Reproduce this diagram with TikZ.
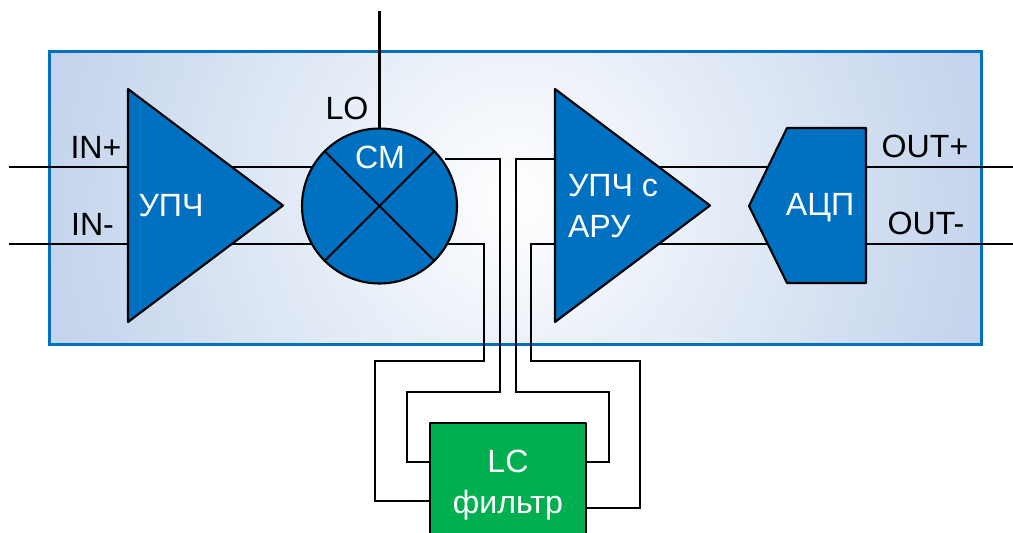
\documentclass[tikz,border=0pt]{standalone}
\usepackage{fontspec}
\setmainfont{Liberation Sans}
\usetikzlibrary{shapes.geometric,backgrounds}
\definecolor{chipblue}{HTML}{0070C0}
\definecolor{filtgreen}{HTML}{00B050}
\definecolor{glowedge}{HTML}{C3D4EC}
\pgfdeclareradialshading{chipglow}{\pgfpointorigin}{color(0bp)=(white); color(12.5bp)=(glowedge); color(50bp)=(glowedge)}
\tikzset{
	wire/.style={line width=1.2pt,black},
	block/.style={draw=black,line width=1.2pt,fill=chipblue,inner sep=0pt,outer sep=0pt},
	ampl/.style={block,isosceles triangle,isosceles triangle stretches,minimum width=4.66cm,minimum height=3.1cm,anchor=apex},
	whitelbl/.style={white,font=\fontsize{18.3}{23}\selectfont,align=left,inner sep=0pt},
	blacklbl/.style={black,font=\fontsize{18.3}{23}\selectfont,inner sep=0pt},
}
\begin{document}
\begin{tikzpicture}[x=.02cm,y=-.02cm,line join=round,line cap=butt]
	\useasboundingbox (0,0) rectangle (1013,533);
	% Блоки
	\node[ampl] (ampA) at (283,205.5) {};
	\node[ampl] (ampB) at (710,205.5) {};
	\node[block,circle,minimum size=3.1cm] (mix) at (379.5,206) {};
	\draw[wire] (mix.45)--(mix.225) (mix.135)--(mix.315);
	\coordinate (adc) at (866,206);
	\draw[block] (787,128)--(866,128)--(866,283)--(787,283)--(749,206)--cycle;
	\node[block,fill=filtgreen,minimum width=3.12cm,minimum height=2.48cm,align=center,text=white,font=\fontsize{18.3}{23}\selectfont] (filt) at (508,485) {LC\\фильтр};
	% Подписи
	\node[whitelbl] (lblA) at (171,206) {УПЧ};
	\node[whitelbl] (lblB) at (613,206) {УПЧ с\\АРУ};
	\node[whitelbl] (lblM) at (380,157) {СМ};
	\node[whitelbl] (lblC) at (820,208) {АЦП};
	\node[blacklbl] (lblLO) at (347,108) {LO};
	\node[blacklbl] (lblIP) at (96,147) {IN+};
	\node[blacklbl] (lblIM) at (92.5,224) {IN-};
	\node[blacklbl] (lblOP) at (925,146) {OUT+};
	\node[blacklbl] (lblOM) at (926,223) {OUT-};
	% Концы проводов
	\coordinate (inP) at (9,167);
	\coordinate (inM) at (9,244);
	\coordinate (outP) at (1013,167);
	\coordinate (outM) at (1013,244);
	\coordinate (lo) at (379.5,11);
	\coordinate (mixU) at (445,159);
	\coordinate (mixD) at (447,244);
	\coordinate (ampU) at (555,159);
	\coordinate (ampD) at (555,244);
	\begin{scope}[on background layer]
		% Корпус
		\node[draw=chipblue,line width=1.7pt,inner sep=0pt,minimum width=18.66cm,minimum height=5.88cm,
			path picture={\shade[shading=chipglow] (path picture bounding box.center) circle (18.8cm);}] (chip) at (515.5,198) {};
		% Провода
		\draw[wire] (lo)--(mix.north);
		\draw[wire] (inP)--(inP-|ampA.lower side) (inM)--(inM-|ampA.lower side);
		\draw[wire] (inP-|ampA.center)--(inP-|mix.center) (inM-|ampA.center)--(inM-|mix.center);
		\draw[wire] (inP-|ampB.center)--(inP-|adc) (inM-|ampB.center)--(inM-|adc);
		\draw[wire] (inP-|adc)--(outP) (inM-|adc)--(outM);
		\draw[wire] (mixU)--(500,159)--(500,392)--(407,392)--(407,462)--(filt.west|-0,462);
		\draw[wire] (mixD)--(484,244)--(484,361)--(375,361)--(375,501)--(filt.west|-0,501);
		\draw[wire] (ampU)--(515.7,159)--(515.7,392)--(609,392)--(609,462)--(filt.east|-0,462);
		\draw[wire] (ampD)--(530.7,244)--(530.7,361)--(640,361)--(640,508)--(filt.east|-0,508);
	\end{scope}
\end{tikzpicture}
\end{document}
